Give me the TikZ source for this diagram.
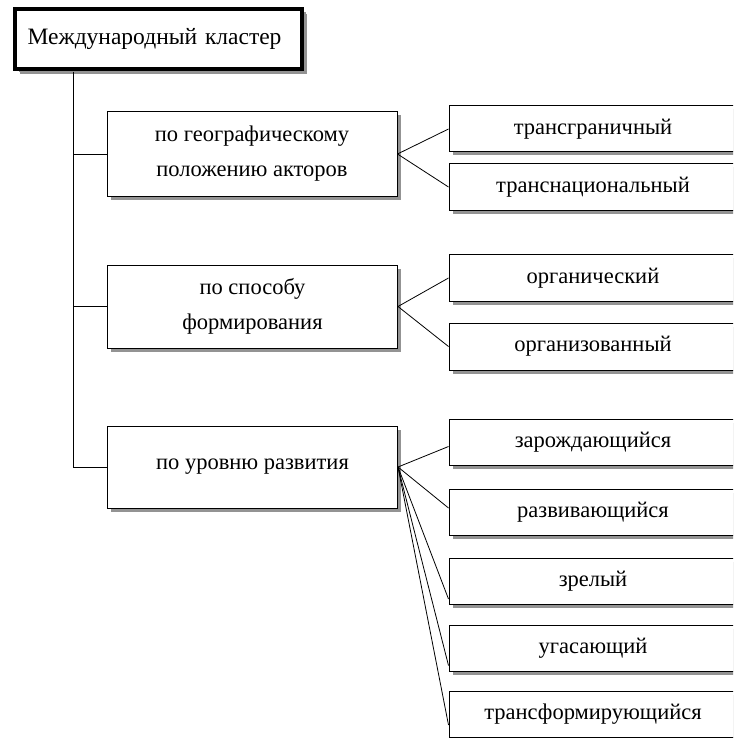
\documentclass[tikz,border=0pt]{standalone}
\usepackage{fontspec}
\setmainfont{Liberation Serif}
\usetikzlibrary{shadows,calc}
\begin{document}
\begin{tikzpicture}[x=1pt,y=-1pt,
  box/.style={draw, line width=1pt, fill=white, align=center, inner sep=0pt,
     font=\fontsize{22.5}{35}\selectfont,
     drop shadow={shadow xshift=3.5pt, shadow yshift=-3.5pt, fill=gray!85, opacity=1}},
  midbox/.style={box, minimum width=290pt, minimum height=84pt},
  leafbox/.style={box, minimum width=288pt, minimum height=46pt},
  link/.style={line width=0.8pt}]
\useasboundingbox (0,0) rectangle (733,738);
\clip (0,0) rectangle (733,738);
\fill[white] (0,0) rectangle (733,738);

\node[box, line width=4pt, minimum width=287pt, minimum height=60pt, text width=262pt, align=left,
  font=\fontsize{23.5}{35}\selectfont,
  drop shadow={shadow xshift=5pt, shadow yshift=-5pt, fill=gray!85, opacity=1}]
  (top) at (158.5,39) {Международный кластер};

\node[midbox] (a) at (252,154) {по географическому\\положению акторов};
\node[midbox, minimum height=83pt] (b) at (252.5,306.5) {по способу\\формирования};
\node[midbox, minimum height=82pt] (c) at (252.5,467) {по уровню развития};

\node[leafbox] (a1) at (593,129) {трансграничный};
\node[leafbox] (a2) at (593,187) {транснациональный};
\node[leafbox, minimum height=47pt] (b1) at (593,278) {органический};
\node[leafbox, minimum height=47pt] (b2) at (593,346.5) {организованный};
\node[leafbox] (c1) at (593,442.5) {зарождающийся};
\node[leafbox] (c2) at (593,512) {развивающийся};
\node[leafbox] (c3) at (593,581.5) {зрелый};
\node[leafbox] (c4) at (593,648) {угасающий};
\node[leafbox] (c5) at (593,714) {трансформирующийся};

\coordinate (trunk) at (73,72);
\draw[link] (trunk) |- (c.west);
\draw[link] (trunk) |- (a.west);
\draw[link] (trunk) |- (b.west);

\draw[link] (a.east) -- (a1.west);
\draw[link] (a.east) -- (a2.west);
\draw[link] (b.east) -- (b1.west);
\draw[link] (b.east) -- (b2.west);
\draw[link] (c.east) -- ($(c1.west)+(0,4)$);
\draw[link] (c.east) -- ($(c2.west)+(0,-4)$);
\draw[link] (c.east) -- ($(c3.south west)+(0,-6)$);
\draw[link] (c.east) -- ($(c4.south west)+(0,-6)$);
\draw[link] (c.east) -- ($(c5.west)+(0,11)$);
\end{tikzpicture}
\end{document}
